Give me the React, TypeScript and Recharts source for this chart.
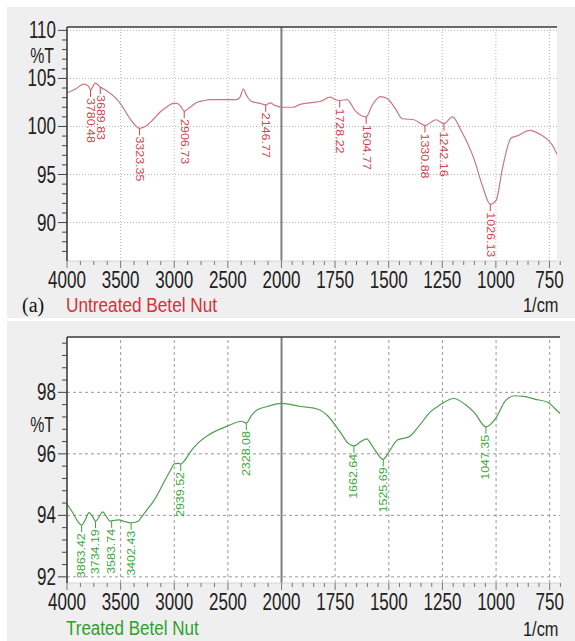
import React from 'react';
import { LineChart, Line, XAxis, YAxis, ReferenceLine, CartesianGrid } from 'recharts';

const SANS = '"Liberation Sans", Arial, sans-serif';

// wavenumber axis labels (1/cm)
const X_LABELS = [4000, 3500, 3000, 2500, 2000, 1750, 1500, 1250, 1000, 750];

// untreated spectrum
const UNTREATED_WN = [
  4000, 3920, 3845, 3800, 3780, 3737, 3690, 3628, 3560, 3504, 3411, 3323, 3255, 3190, 3131, 3060,
  3007, 2976, 2940, 2907, 2852, 2790, 2720, 2666, 2540, 2417, 2386, 2356, 2324, 2277, 2200, 2147,
  2107, 2061, 2000, 1945, 1913, 1851, 1820, 1773, 1750, 1728, 1694, 1655, 1605, 1577, 1538, 1507,
  1470, 1436, 1382, 1331, 1280, 1242, 1202, 1163, 1100, 1061, 1026, 999, 968, 929, 897, 843, 788,
  741, 702,
];
const UNTREATED_T = [
  103.5, 103.9, 104.4, 104.2, 103.8, 104.5, 104.1, 103.7, 103.1, 102.4, 100.8, 99.8, 100.1, 100.8,
  101.5, 102.1, 102.4, 102.4, 102.1, 101.6, 102.0, 102.5, 102.7, 102.8, 102.8, 102.8, 103.05, 103.9,
  103.2, 102.6, 102.4, 102.25, 102.45, 102.2, 102.0, 102.0, 102.3, 102.5, 102.6, 103.05, 102.8,
  102.7, 102.8, 101.6, 101.0, 102.2, 103.1, 102.9, 101.9, 100.8, 100.7, 100.1, 100.7, 100.3, 101.0,
  99.6, 96.5, 93.7, 91.9, 92.3, 95.8, 98.8, 99.05, 99.6, 99.1, 98.2, 96.5,
];
const UNTREATED_PEAKS = [3780.48, 3689.83, 3323.35, 2906.73, 2146.77, 1728.22, 1604.77, 1330.88, 1242.16, 1026.13];
const UNTREATED_PEAK_T = [103.8, 104.1, 99.8, 101.6, 102.25, 102.7, 101.0, 100.1, 100.3, 91.9];

// treated spectrum
const TREATED_WN = [
  4000, 3942, 3900, 3863, 3830, 3795, 3760, 3734, 3700, 3668, 3630, 3600, 3584, 3515, 3463, 3402,
  3340, 3309, 3250, 3190, 3087, 3030, 3002, 2967, 2940, 2900, 2848, 2779, 2677, 2506, 2369, 2328,
  2280, 2232, 2130, 2000, 1913, 1835, 1784, 1757, 1724, 1690, 1663, 1630, 1604, 1570, 1526, 1503,
  1460, 1405, 1360, 1304, 1264, 1196, 1145, 1100, 1047, 1000, 957, 913, 872, 820, 757, 730, 700,
];
const TREATED_T = [
  94.37, 94.06, 93.8, 93.68, 93.85, 94.09, 93.95, 93.81, 93.95, 94.11, 93.95, 93.81, 93.82, 93.85,
  93.8, 93.76, 93.8, 93.93, 94.2, 94.48, 95.14, 95.5, 95.67, 95.69, 95.67, 95.8, 96.07, 96.35, 96.62,
  96.9, 97.06, 97.0, 97.25, 97.42, 97.54, 97.64, 97.54, 97.46, 97.23, 97.0, 96.68, 96.35, 96.26, 96.4,
  96.49, 96.18, 95.82, 96.02, 96.45, 96.56, 96.9, 97.38, 97.58, 97.8, 97.61, 97.33, 96.88, 97.17,
  97.72, 97.89, 97.87, 97.78, 97.67, 97.5, 97.3,
];
const TREATED_PEAKS = [3863.42, 3734.19, 3583.74, 3402.43, 2939.52, 2328.08, 1662.64, 1525.69, 1047.35];
const TREATED_PEAK_T = [93.68, 93.81, 93.82, 93.76, 95.67, 97.0, 96.26, 95.82, 96.88];

const UNTREATED_Y_LABELS = [90, 95, 100, 105, 110];
const TREATED_Y_LABELS = [92, 94, 96, 98];

// the axis is compressed 2:1 above 2000 1/cm
const toU = (w: number) => (w >= 2000 ? (4000 - w) / 2 : 1000 + (2000 - w));

const majorU = X_LABELS.map(toU);
const minorU: number[] = [];
for (let w = 4000; w > 2000; w -= 125) if (w % 500 !== 0) minorU.push(toU(w));
for (let w = 2000; w >= 700; w -= 50) if (w % 250 !== 0) minorU.push(toU(w));
const xTicks = [...majorU, ...minorU].sort((a, b) => a - b);

// narrow (Arial Narrow look) text, squeezed horizontally
const NText = ({ x, y, anchor, size = 23, sx = 0.74, fill = '#222', children }: any) => (
  <text
    transform={`translate(${x} ${y}) scale(${sx} 1)`}
    textAnchor={anchor}
    fontFamily={SANS}
    fontSize={size}
    fill={fill}
  >
    {children}
  </text>
);

const XTick = (props: any) => {
  const { x, y, payload } = props;
  const i = majorU.indexOf(payload.value);
  const major = i >= 0;
  return (
    <g>
      <line x1={x} x2={x} y1={y} y2={y + (major ? 7 : 4)} stroke="#777" strokeWidth={1} />
      {major && (
        <NText x={x} y={y + 27} anchor="middle">
          {X_LABELS[i]}
        </NText>
      )}
    </g>
  );
};

const makeYTick = (labels: number[]) => (props: any) => {
  const { x, y, payload } = props;
  const major = labels.some((l) => Math.abs(l - payload.value) < 1e-6);
  return (
    <g>
      <line x1={x - (major ? 9 : 5)} x2={x} y1={y} y2={y} stroke="#444" strokeWidth={1} />
      {major && (
        <NText x={x - 11} y={y + 8} anchor="end">
          {payload.value}
        </NText>
      )}
    </g>
  );
};

const makePeakDot = (color: string, down: boolean) => (props: any) => {
  const { cx, cy, payload, index } = props;
  if (cx == null || cy == null) return <g key={`pk-${index}`} />;
  const y0 = cy + 7;
  return (
    <g key={`pk-${index}`}>
      <line x1={cx} x2={cx} y1={cy} y2={y0} stroke={color} strokeWidth={1} />
      <text
        x={cx}
        y={y0 + 1}
        transform={`rotate(${down ? 90 : -90} ${cx} ${y0 + 1})`}
        textAnchor={down ? 'start' : 'end'}
        dominantBaseline="central"
        fontFamily={SANS}
        fontSize={10}
        textLength={45}
        lengthAdjust="spacingAndGlyphs"
        fill={color}
      >
        {payload.label}
      </text>
    </g>
  );
};

type PanelProps = {
  wn: number[];
  t: number[];
  peaks: number[];
  peakT: number[];
  yLabels: number[];
  yMinor: number[];
  yDomain: [number, number];
  uMax: number;
  height: number;
  marginTop: number;
  marginRight: number;
  xHeight: number;
  lineColor: string;
  labelColor: string;
  grid: string;
  gridDash: string;
  down: boolean;
};

function Panel(p: PanelProps) {
  const data = p.wn.map((w, i) => ({ u: toU(w), t: p.t[i] }));
  const peakData = p.peaks.map((w, i) => ({ u: toU(w), t: p.peakT[i], label: w.toFixed(2) }));
  const yTicks = [...p.yLabels, ...p.yMinor].sort((a, b) => a - b);
  return (
    <LineChart
      width={575}
      height={p.height}
      margin={{ top: p.marginTop, right: p.marginRight, bottom: 0, left: 0 }}
    >
      <CartesianGrid horizontal={false} vertical={false} fill="#ffffff" />
      <XAxis
        type="number"
        dataKey="u"
        domain={[0, p.uMax]}
        allowDataOverflow
        ticks={xTicks}
        interval={0}
        tick={<XTick />}
        tickLine={false}
        tickSize={0}
        tickMargin={0}
        height={p.xHeight}
        axisLine={{ stroke: '#d4d4d4' }}
      />
      <YAxis
        type="number"
        domain={p.yDomain}
        allowDataOverflow
        ticks={yTicks}
        interval={0}
        tick={makeYTick(p.yLabels)}
        tickLine={false}
        tickSize={0}
        tickMargin={0}
        width={67}
        axisLine={{ stroke: '#333', strokeWidth: 1.5 }}
      />
      {p.yLabels.map((v) => (
        <ReferenceLine key={`gy${v}`} y={v} stroke={p.grid} strokeDasharray={p.gridDash} />
      ))}
      {majorU
        .filter((u) => u > 0 && u !== 1000)
        .map((u) => (
          <ReferenceLine key={`gx${u}`} x={u} stroke={p.grid} strokeDasharray={p.gridDash} />
        ))}
      <ReferenceLine x={1000} stroke="#808080" strokeWidth={2} />
      <ReferenceLine y={p.yDomain[1]} stroke="#3a3a3a" strokeWidth={1.5} />
      <Line
        data={data}
        dataKey="t"
        type="monotone"
        stroke={p.lineColor}
        strokeWidth={1.2}
        dot={false}
        activeDot={false}
        isAnimationActive={false}
      />
      <Line
        data={peakData}
        dataKey="t"
        stroke="none"
        dot={makePeakDot(p.labelColor, p.down)}
        activeDot={false}
        isAnimationActive={false}
      />
    </LineChart>
  );
}

const txt = (extra: React.CSSProperties, sx: number, origin: string): React.CSSProperties => ({
  position: 'absolute',
  fontFamily: SANS,
  fontSize: 20,
  lineHeight: '20px',
  whiteSpace: 'nowrap',
  transform: `scaleX(${sx})`,
  transformOrigin: origin,
  ...extra,
});

export default function App() {
  const untreatedMinor: number[] = [];
  for (let v = 87; v <= 109; v++) if (v % 5 !== 0) untreatedMinor.push(v);
  const treatedMinor: number[] = [];
  for (let k = 0; k <= 19; k++) {
    const v = Math.round((92 + k * 0.4) * 10) / 10;
    if (v <= 99.6 && Math.abs(v % 2) > 1e-6) treatedMinor.push(v);
  }
  return (
    <div style={{ position: 'absolute', left: 0, top: 0, width: 575, height: 641, background: '#fff', overflow: 'hidden' }}>
      <div style={{ position: 'absolute', left: 7, top: 7, width: 568, height: 311, background: '#efefef' }} />
      <div style={{ position: 'absolute', left: 7, top: 321, width: 568, height: 320, background: '#efefef' }} />

      <div style={{ position: 'absolute', left: 0, top: 0 }}>
        <Panel
          wn={UNTREATED_WN}
          t={UNTREATED_T}
          peaks={UNTREATED_PEAKS}
          peakT={UNTREATED_PEAK_T}
          yLabels={UNTREATED_Y_LABELS}
          yMinor={untreatedMinor}
          yDomain={[86, 110.35]}
          uMax={2285}
          height={320}
          marginTop={27}
          marginRight={18}
          xHeight={59}
          lineColor="#c97680"
          labelColor="#d2434e"
          grid="#b5b5b5"
          gridDash="1 2"
          down
        />
      </div>
      <div style={txt({ right: 575 - 54, top: 45, fontSize: 22, lineHeight: '22px', color: '#222' }, 0.72, 'right')}>%T</div>
      <div style={txt({ left: 22, top: 295, fontFamily: '"Liberation Serif", "Times New Roman", serif', color: '#111', transform: 'none' }, 1, 'left')}>(a)</div>
      <div style={txt({ left: 66, top: 295, color: '#d4303a' }, 0.86, 'left')}>Untreated Betel Nut</div>
      <div style={txt({ right: 16, top: 294, fontSize: 21, lineHeight: '21px', color: '#222' }, 0.78, 'right')}>1/cm</div>

      <div style={{ position: 'absolute', left: 0, top: 320 }}>
        <Panel
          wn={TREATED_WN}
          t={TREATED_T}
          peaks={TREATED_PEAKS}
          peakT={TREATED_PEAK_T}
          yLabels={TREATED_Y_LABELS}
          yMinor={treatedMinor}
          yDomain={[91.8, 99.8]}
          uMax={2298}
          height={321}
          marginTop={17}
          marginRight={15}
          xHeight={58}
          lineColor="#4e9e4e"
          labelColor="#3aa83a"
          grid="#999999"
          gridDash="3 3"
          down={false}
        />
      </div>
      <div style={txt({ right: 575 - 54, top: 414, fontSize: 22, lineHeight: '22px', color: '#222' }, 0.72, 'right')}>%T</div>
      <div style={txt({ left: 66, top: 618, color: '#2ca02c' }, 0.85, 'left')}>Treated Betel Nut</div>
      <div style={txt({ right: 16, top: 618, fontSize: 21, lineHeight: '21px', color: '#222' }, 0.78, 'right')}>1/cm</div>
    </div>
  );
}
